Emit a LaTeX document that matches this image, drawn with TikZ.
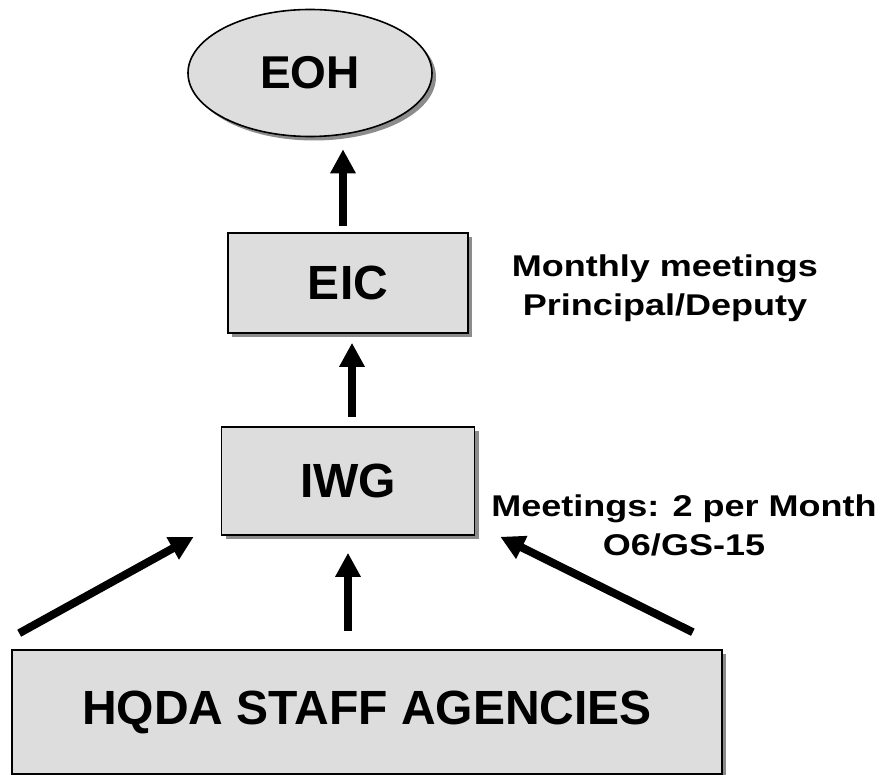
\documentclass[tikz,border=0pt]{standalone}
\usepackage{fontspec}
\setmainfont{Liberation Sans}
\newfontfamily\sidefont[FakeStretch=1.2]{Liberation Sans}
\usetikzlibrary {arrows.meta,positioning,shapes.geometric,shadows}
\definecolor{boxgray}{RGB}{221,221,221}
\definecolor{shadegray}{RGB}{140,140,140}

\begin{document}
\begin{tikzpicture}
    [x=0.5pt,y=-0.5pt,
      box/.style={draw,line width=0.8pt,fill=boxgray,
          drop shadow={shadow xshift=2pt,shadow yshift=-2pt,fill=shadegray,opacity=1},
          font=\fontsize{24}{28}\selectfont\bfseries},
      oval/.style={box,ellipse,font=\fontsize{23}{27}\selectfont\bfseries},
      note/.style={align=center,font=\sidefont\fontsize{15}{19.5}\selectfont\bfseries},
      up/.style={line width=4pt,-{Triangle[width=12pt,length=12pt]}}
    ]
    \useasboundingbox (0,0) rectangle (889,775);
    \node [oval,minimum width=122pt,minimum height=63.5pt] (eoh) at (310,73) {EOH};
    \node [box,minimum width=120pt,minimum height=50pt] (eic) at (348,283) {EIC};
    \node [box,minimum width=126.5pt,minimum height=54pt] (iwg) at (348,481) {IWG};
    \node [box,minimum width=355pt,minimum height=62pt] (hqda) at (367,712) {HQDA STAFF AGENCIES};
    \node [note] (eicnote) at (665,288) {Monthly meetings\\Principal/Deputy};
    \node [note] (iwgnote) at (684,525) {Meetings: 2 per Month\\O6/GS-15};
    % arrows up the chain
    \draw [up,shorten <=3pt,shorten >=6pt] ([xshift=-2.5pt]eic.north) -- ([xshift=-2.5pt]eic.north |- eoh.south);
    \draw [up,shorten <=4.5pt,shorten >=4.5pt] ([xshift=2pt]iwg.north) -- ([xshift=2pt]eic.south);
    \draw [up,shorten <=9pt,shorten >=8.5pt] (hqda.north -| iwg.south) -- (iwg.south);
    \draw [up] ([xshift=4pt,yshift=8pt]hqda.north west) -- ([xshift=-13.5pt,yshift=-0.5pt]iwg.south west);
    \draw [up] ([xshift=-15pt,yshift=8.5pt]hqda.north east) -- ([xshift=12.5pt,yshift=-0.5pt]iwg.south east);
\end{tikzpicture}
\end{document}
